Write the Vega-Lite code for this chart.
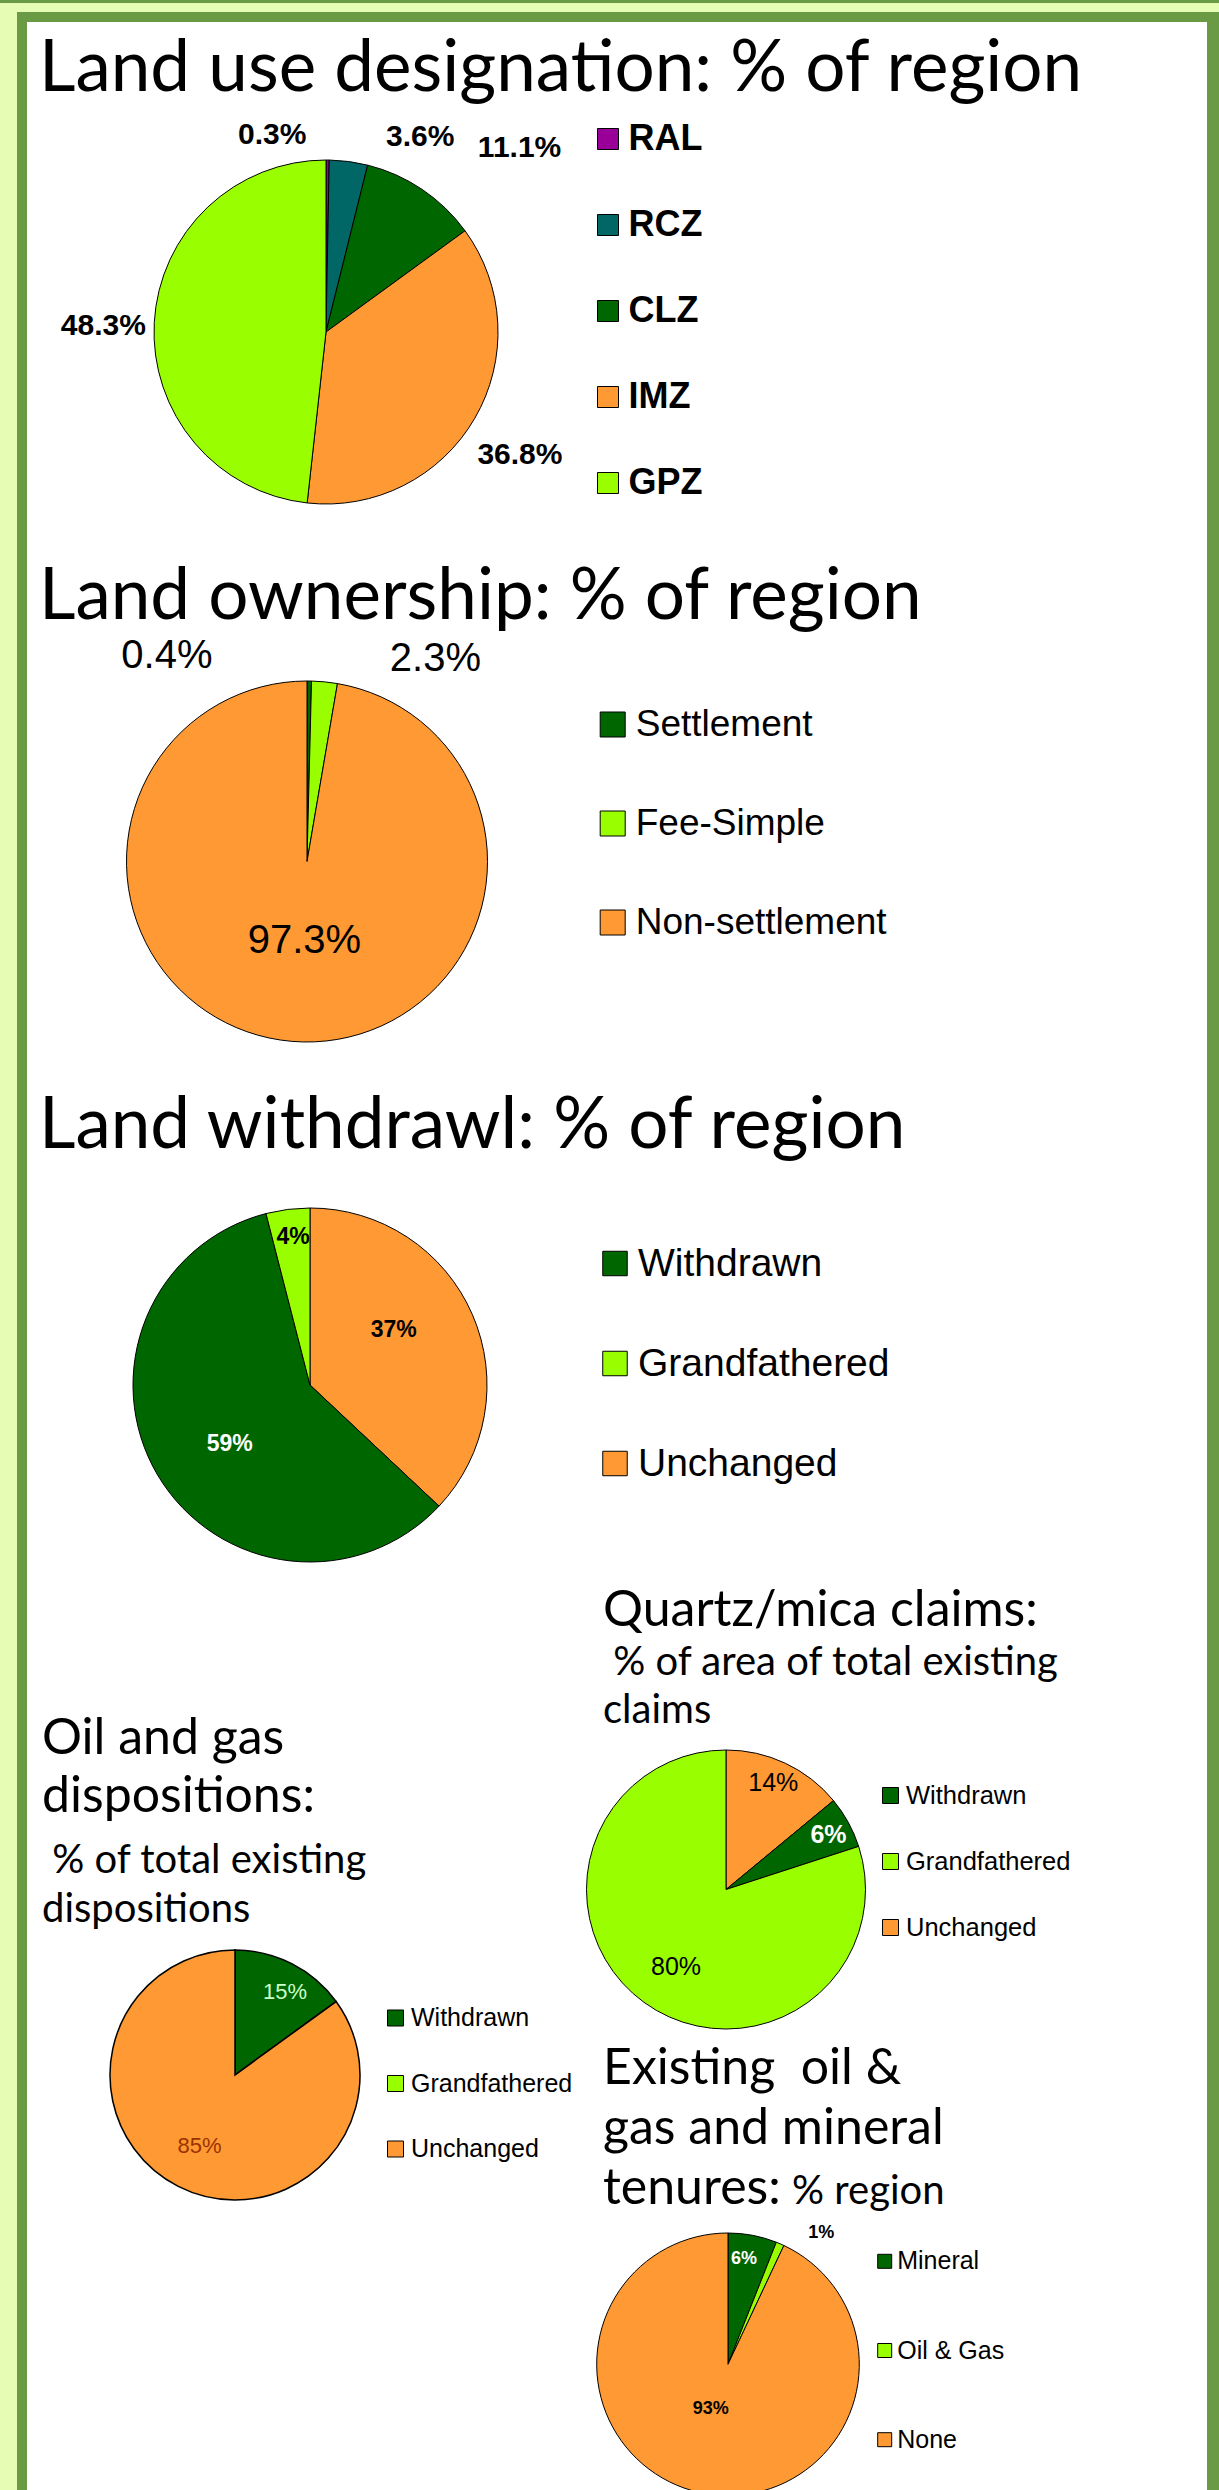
{
  "$schema": "https://vega.github.io/schema/vega-lite/v6.json",
  "background": "white",
  "padding": 0,
  "config": {"view": {"stroke": null}, "font": "Liberation Sans"},
  "datasets": {
    "empty": [],
    "landuse": [
      {"cat": "RAL", "v": 0.3, "lab": "0.3%", "i": 1},
      {"cat": "RCZ", "v": 3.6, "lab": "3.6%", "i": 2},
      {"cat": "CLZ", "v": 11.1, "lab": "11.1%", "i": 3},
      {"cat": "IMZ", "v": 36.8, "lab": "36.8%", "i": 4},
      {"cat": "GPZ", "v": 48.3, "lab": "48.3%", "i": 5}
    ],
    "ownership": [
      {"cat": "Settlement", "v": 0.4, "lab": "0.4%", "i": 1},
      {"cat": "Fee-Simple", "v": 2.3, "lab": "2.3%", "i": 2},
      {"cat": "Non-settlement", "v": 97.3, "lab": "97.3%", "i": 3}
    ],
    "withdrawal": [
      {"cat": "Unchanged", "v": 37, "lab": "37%", "i": 1},
      {"cat": "Withdrawn", "v": 59, "lab": "59%", "i": 2},
      {"cat": "Grandfathered", "v": 4, "lab": "4%", "i": 3}
    ],
    "oilgas": [
      {"cat": "Withdrawn", "v": 15, "lab": "15%", "i": 1},
      {"cat": "Grandfathered", "v": 0, "lab": "", "i": 2},
      {"cat": "Unchanged", "v": 85, "lab": "85%", "i": 3}
    ],
    "quartz": [
      {"cat": "Unchanged", "v": 14, "lab": "14%", "i": 1},
      {"cat": "Withdrawn", "v": 6, "lab": "6%", "i": 2},
      {"cat": "Grandfathered", "v": 80, "lab": "80%", "i": 3}
    ],
    "tenures": [
      {"cat": "Mineral", "v": 6, "lab": "6%", "i": 1},
      {"cat": "Oil & Gas", "v": 1, "lab": "1%", "i": 2},
      {"cat": "None", "v": 93, "lab": "93%", "i": 3}
    ]
  },
  "spacing": 0,
  "resolve": {"scale": {"color": "independent"}, "legend": {"color": "independent"}},
  "vconcat": [
    {"width": 1219, "height": 3, "data": {"name": "empty"}, "mark": "point", "encoding": {}, "view": {"fill": "#6b9a45", "stroke": null}},
    {"width": 1219, "height": 9, "data": {"name": "empty"}, "mark": "point", "encoding": {}, "view": {"fill": "#e6fbb3", "stroke": null}},
    {
      "spacing": 0,
      "resolve": {"scale": {"color": "independent"}, "legend": {"color": "independent"}},
      "hconcat": [
        {"width": 17, "height": 2478, "data": {"name": "empty"}, "mark": "point", "encoding": {}, "view": {"fill": "#e6fbb3", "stroke": null}},
        {
          "spacing": 0,
          "resolve": {"scale": {"color": "independent"}, "legend": {"color": "independent"}},
          "vconcat": [
            {"width": 1202, "height": 10, "data": {"name": "empty"}, "mark": "point", "encoding": {}, "view": {"fill": "#6b9a45", "stroke": null}},
            {
              "spacing": 0,
              "resolve": {"scale": {"color": "independent"}, "legend": {"color": "independent"}},
              "hconcat": [
                {"width": 10, "height": 2468, "data": {"name": "empty"}, "mark": "point", "encoding": {}, "view": {"fill": "#6b9a45", "stroke": null}},
                {
                  "spacing": 0,
                  "bounds": "flush",
                  "resolve": {"scale": {"color": "independent"}, "legend": {"color": "independent"}},
                  "vconcat": [
                    {
                      "width": 1180, "height": 138, "data": {"name": "empty"}, "mark": "point", "encoding": {},
                      "title": {"text": "Land use designation: % of region", "orient": "bottom", "anchor": "start", "frame": "group", "offset": -125, "dx": 12, "font": "Lato", "fontSize": 71, "fontWeight": "normal", "color": "black"}
                    },
                    {
                      "width": 598, "height": 344,
                      "data": {"name": "landuse"},
                      "encoding": {
                        "theta": {"field": "v", "type": "quantitative", "stack": true},
                        "order": {"field": "i", "type": "quantitative"}
                      },
                      "layer": [
                        {
                          "mark": {"type": "arc", "radius": 172, "stroke": "black", "strokeWidth": 1},
                          "encoding": {
                            "color": {
                              "field": "cat", "type": "nominal",
                              "scale": {"domain": ["RAL", "RCZ", "CLZ", "IMZ", "GPZ"], "range": ["#990099", "#006666", "#006600", "#ff9933", "#99ff00"]},
                              "legend": {"orient": "none", "legendX": 563, "legendY": -39, "title": null, "padding": 0, "symbolType": "square", "symbolSize": 441, "symbolStrokeColor": "black", "symbolStrokeWidth": 1, "labelFont": "Liberation Sans", "labelFontSize": 36, "labelFontWeight": "bold", "labelColor": "black", "labelOffset": 2.5, "rowPadding": 50, "labelLimit": 0}
                            }
                          }
                        },
                        {"mark": {"type": "text", "radius": 230, "dx": -56, "dy": 33, "font": "Liberation Sans", "fontSize": 30, "fontWeight": "bold", "color": "black"},
                         "encoding": {"text": {"condition": {"test": "datum.cat === 'RAL'", "field": "lab", "type": "nominal"}, "value": ""}}},
                        {"mark": {"type": "text", "radius": 230, "dx": 64, "dy": 33, "font": "Liberation Sans", "fontSize": 30, "fontWeight": "bold", "color": "black"},
                         "encoding": {"text": {"condition": {"test": "datum.cat === 'RCZ'", "field": "lab", "type": "nominal"}, "value": ""}}},
                        {"mark": {"type": "text", "radius": 230, "dx": 65, "dy": 7, "font": "Liberation Sans", "fontSize": 30, "fontWeight": "bold", "color": "black"},
                         "encoding": {"text": {"condition": {"test": "datum.cat === 'CLZ'", "field": "lab", "type": "nominal"}, "value": ""}}},
                        {"mark": {"type": "text", "radius": 230, "dx": -5, "dy": 8, "font": "Liberation Sans", "fontSize": 30, "fontWeight": "bold", "color": "black"},
                         "encoding": {"text": {"condition": {"test": "datum.cat === 'IMZ'", "field": "lab", "type": "nominal"}, "value": ""}}},
                        {"mark": {"type": "text", "radius": 230, "dx": 7, "dy": 7, "font": "Liberation Sans", "fontSize": 30, "fontWeight": "bold", "color": "black"},
                         "encoding": {"text": {"condition": {"test": "datum.cat === 'GPZ'", "field": "lab", "type": "nominal"}, "value": ""}}}
                      ]
                    },
                    {
                      "width": 1180, "height": 176.5, "data": {"name": "empty"}, "mark": "point", "encoding": {},
                      "title": {"text": "Land ownership: % of region", "orient": "bottom", "anchor": "start", "frame": "group", "offset": -118, "dx": 12, "font": "Lato", "fontSize": 71, "fontWeight": "normal", "color": "black"}
                    },
                    {
                      "width": 560, "height": 361,
                      "data": {"name": "ownership"},
                      "encoding": {
                        "theta": {"field": "v", "type": "quantitative", "stack": true},
                        "order": {"field": "i", "type": "quantitative"}
                      },
                      "layer": [
                        {
                          "mark": {"type": "arc", "radius": 180.5, "stroke": "black", "strokeWidth": 1},
                          "encoding": {
                            "color": {
                              "field": "cat", "type": "nominal",
                              "scale": {"domain": ["Settlement", "Fee-Simple", "Non-settlement"], "range": ["#006600", "#99ff00", "#ff9933"]},
                              "legend": {"orient": "none", "legendX": 567.2, "legendY": 25, "title": null, "padding": 0, "symbolType": "square", "symbolSize": 625, "symbolStrokeColor": "black", "symbolStrokeWidth": 1, "labelFont": "Liberation Sans", "labelFontSize": 37, "labelColor": "black", "labelOffset": 4.5, "rowPadding": 61, "labelLimit": 0}
                            }
                          }
                        },
                        {"mark": {"type": "text", "radius": 230, "dx": -143, "dy": 24, "font": "Liberation Sans", "fontSize": 40, "color": "black"},
                         "encoding": {"text": {"condition": {"test": "datum.cat === 'Settlement'", "field": "lab", "type": "nominal"}, "value": ""}}},
                        {"mark": {"type": "text", "radius": 230, "dx": 106, "dy": 26, "font": "Liberation Sans", "fontSize": 40, "color": "black"},
                         "encoding": {"text": {"condition": {"test": "datum.cat === 'Fee-Simple'", "field": "lab", "type": "nominal"}, "value": ""}}},
                        {"mark": {"type": "text", "radius": 78, "dx": 4, "dy": 2, "font": "Liberation Sans", "fontSize": 40, "color": "black"},
                         "encoding": {"text": {"condition": {"test": "datum.cat === 'Non-settlement'", "field": "lab", "type": "nominal"}, "value": ""}}}
                      ]
                    },
                    {
                      "width": 1180, "height": 165.5, "data": {"name": "empty"}, "mark": "point", "encoding": {},
                      "title": {"text": "Land withdrawl: % of region", "orient": "bottom", "anchor": "start", "frame": "group", "offset": -116, "dx": 12, "font": "Lato", "fontSize": 71, "fontWeight": "normal", "color": "black"}
                    },
                    {
                      "width": 566, "height": 354,
                      "data": {"name": "withdrawal"},
                      "encoding": {
                        "theta": {"field": "v", "type": "quantitative", "stack": true},
                        "order": {"field": "i", "type": "quantitative"}
                      },
                      "layer": [
                        {
                          "mark": {"type": "arc", "radius": 177, "stroke": "black", "strokeWidth": 1},
                          "encoding": {
                            "color": {
                              "field": "cat", "type": "nominal",
                              "scale": {"domain": ["Withdrawn", "Grandfathered", "Unchanged"], "range": ["#006600", "#99ff00", "#ff9933"]},
                              "legend": {"orient": "none", "legendX": 568.5, "legendY": 36, "title": null, "padding": 0, "symbolType": "square", "symbolSize": 600, "symbolStrokeColor": "black", "symbolStrokeWidth": 1, "labelFont": "Liberation Sans", "labelFontSize": 39, "labelColor": "black", "labelOffset": 3.5, "rowPadding": 60, "labelLimit": 0}
                            }
                          }
                        },
                        {"mark": {"type": "text", "radius": 101, "dx": -9, "dy": -15, "font": "Liberation Sans", "fontSize": 23, "fontWeight": "bold", "color": "black"},
                         "encoding": {"text": {"condition": {"test": "datum.cat === 'Unchanged'", "field": "lab", "type": "nominal"}, "value": ""}}},
                        {"mark": {"type": "text", "radius": 99, "dx": 5, "dy": 9, "font": "Liberation Sans", "fontSize": 23, "fontWeight": "bold", "color": "white"},
                         "encoding": {"text": {"condition": {"test": "datum.cat === 'Withdrawn'", "field": "lab", "type": "nominal"}, "value": ""}}},
                        {"mark": {"type": "text", "radius": 150, "dx": 2, "dy": 1, "font": "Liberation Sans", "fontSize": 23, "fontWeight": "bold", "color": "black"},
                         "encoding": {"text": {"condition": {"test": "datum.cat === 'Grandfathered'", "field": "lab", "type": "nominal"}, "value": ""}}}
                      ]
                    },
                    {
                      "spacing": 0,
                      "bounds": "flush",
                      "columns": 2,
                      "resolve": {"scale": {"color": "independent"}, "legend": {"color": "independent"}},
                      "concat": [
                        {
                          "width": 416, "height": 187.5, "data": {"name": "empty"}, "mark": "point", "encoding": {},
                          "title": {"text": ["Oil and gas", "dispositions:"], "lineHeight": 58.5, "subtitle": ["\u200b\u00a0% of total existing", "dispositions"], "subtitleLineHeight": 49, "subtitlePadding": 19, "subtitleFont": "Lato", "subtitleFontSize": 40, "subtitleColor": "black", "orient": "bottom", "anchor": "start", "frame": "group", "offset": -36, "dx": 15, "font": "Lato", "fontSize": 50, "fontWeight": "normal", "color": "black"}
                        },
                        {
                          "width": 566, "height": 187.5, "data": {"name": "empty"}, "mark": "point", "encoding": {},
                          "title": {"text": "Quartz/mica claims:", "subtitle": ["\u200b\u00a0% of area of total existing", "claims"], "subtitleLineHeight": 48, "subtitlePadding": 7, "subtitleFont": "Lato", "subtitleFontSize": 40, "subtitleColor": "black", "orient": "bottom", "anchor": "start", "frame": "group", "offset": -164, "dx": 160, "font": "Lato", "fontSize": 50, "fontWeight": "normal", "color": "black"}
                        },
                        {"width": 416, "height": 279, "data": {"name": "empty"}, "mark": "point", "encoding": {}},
                        {
                          "width": 566, "height": 279,
                          "data": {"name": "quartz"},
                          "encoding": {
                            "theta": {"field": "v", "type": "quantitative", "stack": true},
                            "order": {"field": "i", "type": "quantitative"}
                          },
                          "layer": [
                            {
                              "mark": {"type": "arc", "radius": 139.5, "stroke": "black", "strokeWidth": 1},
                              "encoding": {
                                "color": {
                                  "field": "cat", "type": "nominal",
                                  "scale": {"domain": ["Withdrawn", "Grandfathered", "Unchanged"], "range": ["#006600", "#99ff00", "#ff9933"]},
                                  "legend": {"orient": "none", "legendX": 434.75, "legendY": 32.75, "title": null, "padding": 0, "symbolType": "square", "symbolSize": 256, "symbolStrokeColor": "black", "symbolStrokeWidth": 1, "labelFont": "Liberation Sans", "labelFontSize": 25.5, "labelColor": "black", "labelOffset": 2.75, "rowPadding": 39, "labelLimit": 0}
                                }
                              }
                            },
                            {"mark": {"type": "text", "radius": 118, "dx": -3, "dy": 0, "font": "Liberation Sans", "fontSize": 25, "color": "black"},
                             "encoding": {"text": {"condition": {"test": "datum.cat === 'Unchanged'", "field": "lab", "type": "nominal"}, "value": ""}}},
                            {"mark": {"type": "text", "radius": 117, "dx": 0, "dy": 1.5, "font": "Liberation Sans", "fontSize": 25, "fontWeight": "bold", "color": "white"},
                             "encoding": {"text": {"condition": {"test": "datum.cat === 'Withdrawn'", "field": "lab", "type": "nominal"}, "value": ""}}},
                            {"mark": {"type": "text", "radius": 91, "dx": 3.5, "dy": 4, "font": "Liberation Sans", "fontSize": 25, "color": "black"},
                             "encoding": {"text": {"condition": {"test": "datum.cat === 'Grandfathered'", "field": "lab", "type": "nominal"}, "value": ""}}}
                          ]
                        },
                        {
                          "width": 416, "height": 92,
                          "data": {"name": "oilgas"},
                          "encoding": {
                            "theta": {"field": "v", "type": "quantitative", "stack": true},
                            "order": {"field": "i", "type": "quantitative"}
                          },
                          "layer": [
                            {
                              "mark": {"type": "arc", "radius": 125, "stroke": "black", "strokeWidth": 1.5},
                              "encoding": {
                                "color": {
                                  "field": "cat", "type": "nominal",
                                  "scale": {"domain": ["Withdrawn", "Grandfathered", "Unchanged"], "range": ["#006600", "#99ff00", "#ff9933"]},
                                  "legend": {"orient": "none", "legendX": 356, "legendY": -23.5, "title": null, "padding": 0, "symbolType": "square", "symbolSize": 256, "symbolStrokeColor": "black", "symbolStrokeWidth": 1, "labelFont": "Liberation Sans", "labelFontSize": 25, "labelColor": "black", "labelOffset": 3, "rowPadding": 39.5, "labelLimit": 0}
                                }
                              }
                            },
                            {"mark": {"type": "text", "radius": 98, "dx": 5.5, "dy": 4, "font": "Liberation Sans", "fontSize": 22, "color": "#ccffcc"},
                             "encoding": {"text": {"condition": {"test": "datum.cat === 'Withdrawn'", "field": "lab", "type": "nominal"}, "value": ""}}},
                            {"mark": {"type": "text", "radius": 78, "dx": 0, "dy": 2, "font": "Liberation Sans", "fontSize": 22, "color": "#993300"},
                             "encoding": {"text": {"condition": {"test": "datum.cat === 'Unchanged'", "field": "lab", "type": "nominal"}, "value": ""}}}
                          ]
                        },
                        {
                          "width": 350, "height": 203.2, "data": {"name": "empty"}, "mark": "point", "encoding": {},
                          "title": {"text": ["Existing\u00a0 oil &", "gas and mineral", "tenures:"], "lineHeight": 60, "orient": "bottom", "anchor": "start", "frame": "group", "offset": -188, "dx": 160, "font": "Lato", "fontSize": 50, "fontWeight": "normal", "color": "black"}
                        },
                        {
                          "width": 416, "height": 10, "data": {"name": "empty"}, "mark": "point", "encoding": {},
                          "title": {"text": "% region", "orient": "top", "anchor": "start", "frame": "group", "offset": 20.7, "dx": 765, "font": "Lato", "fontSize": 40, "fontWeight": "normal", "color": "black"}
                        },
                        {
                          "width": 570, "height": 262.6,
                          "data": {"name": "tenures"},
                          "encoding": {
                            "theta": {"field": "v", "type": "quantitative", "stack": true},
                            "order": {"field": "i", "type": "quantitative"}
                          },
                          "layer": [
                            {
                              "mark": {"type": "arc", "radius": 131.3, "stroke": "black", "strokeWidth": 1},
                              "encoding": {
                                "color": {
                                  "field": "cat", "type": "nominal",
                                  "scale": {"domain": ["Mineral", "Oil & Gas", "None"], "range": ["#006600", "#99ff00", "#ff9933"]},
                                  "legend": {"orient": "none", "legendX": 429.2, "legendY": 15.8, "title": null, "padding": 0, "symbolType": "square", "symbolSize": 196, "symbolStrokeColor": "black", "symbolStrokeWidth": 1, "labelFont": "Liberation Sans", "labelFontSize": 25, "labelColor": "black", "labelOffset": 0, "rowPadding": 63.2, "labelLimit": 0}
                                }
                              }
                            },
                            {"mark": {"type": "text", "radius": 107, "dx": -4, "dy": 0, "font": "Liberation Sans", "fontSize": 18, "fontWeight": "bold", "color": "white"},
                             "encoding": {"text": {"condition": {"test": "datum.cat === 'Mineral'", "field": "lab", "type": "nominal"}, "value": ""}}},
                            {"mark": {"type": "text", "radius": 162, "dx": 29, "dy": 17, "font": "Liberation Sans", "fontSize": 18, "fontWeight": "bold", "color": "black"},
                             "encoding": {"text": {"condition": {"test": "datum.cat === 'Oil & Gas'", "field": "lab", "type": "nominal"}, "value": ""}}},
                            {"mark": {"type": "text", "radius": 47, "dx": -7, "dy": -1, "font": "Liberation Sans", "fontSize": 18, "fontWeight": "bold", "color": "black"},
                             "encoding": {"text": {"condition": {"test": "datum.cat === 'None'", "field": "lab", "type": "nominal"}, "value": ""}}}
                          ]
                        }
                      ]
                    }
                  ]
                },
                {"width": 12, "height": 2468, "data": {"name": "empty"}, "mark": "point", "encoding": {}, "view": {"fill": "#6b9a45", "stroke": null}}
              ]
            }
          ]
        }
      ]
    }
  ]
}
